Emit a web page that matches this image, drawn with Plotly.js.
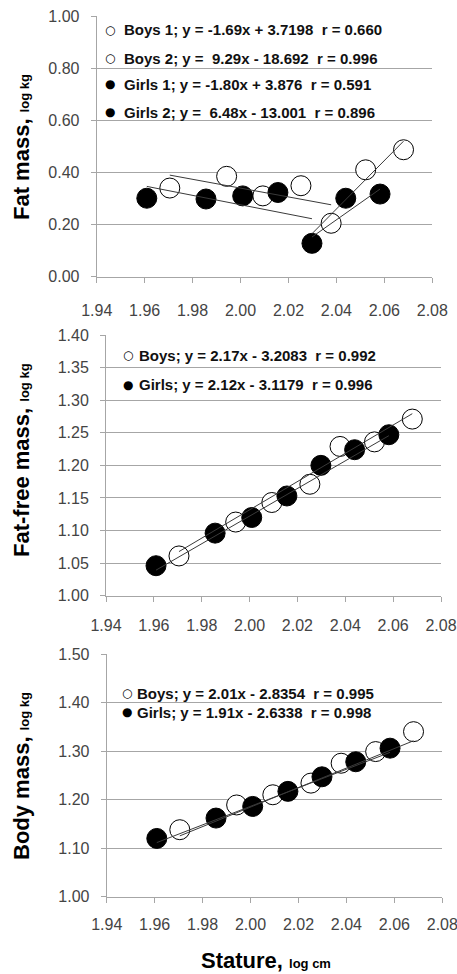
<!DOCTYPE html>
<html>
<head>
<meta charset="utf-8">
<script src="https://cdn.plot.ly/plotly-3.0.1.min.js"></script>
<style>html,body{margin:0;padding:0;background:#fff;}#chart{width:457px;height:974px;}</style>
</head>
<body>
<div id="chart"></div>
<script>
// ---- data (log10 stature, cm) ----
const boysStature  = [1.9705, 1.9942, 2.0093, 2.0252, 2.0378, 2.0522, 2.0680];
const girlsStature = [1.9609, 1.9856, 2.0009, 2.0156, 2.0298, 2.0439, 2.0582];

// Fat mass, log kg
const boysFat  = [0.340, 0.385, 0.310, 0.349, 0.205, 0.410, 0.487];
const girlsFat = [0.301, 0.298, 0.310, 0.323, 0.128, 0.301, 0.317];
// Fat-free mass, log kg
const boysFFM  = [1.061, 1.113, 1.143, 1.171, 1.229, 1.236, 1.271];
const girlsFFM = [1.046, 1.096, 1.120, 1.153, 1.200, 1.224, 1.247];
// Body mass, log kg
const boysBM   = [1.138, 1.189, 1.210, 1.234, 1.275, 1.299, 1.340];
const girlsBM  = [1.120, 1.162, 1.186, 1.217, 1.247, 1.278, 1.306];

// regression lines: [slope, intercept, xStart, xEnd]
const fatBoys1Fit  = [-1.69, 3.7198, 1.9705, 2.0378];
const fatBoys2Fit  = [9.29, -18.692, 2.0298, 2.0680];
const fatGirls1Fit = [-1.80, 3.876, 1.9609, 2.0298];
const fatGirls2Fit = [6.48, -13.001, 2.0298, 2.0582];
const ffmBoysFit   = [2.17, -3.2083, 1.9705, 2.0680];
const ffmGirlsFit  = [2.12, -3.1179, 1.9609, 2.0582];
const bmBoysFit    = [2.01, -2.8354, 1.9705, 2.0680];
const bmGirlsFit   = [1.91, -2.6338, 1.9609, 2.0582];

// legend texts
const fatLabels = [
  "Boys 1; y = -1.69x + 3.7198\u00a0\u00a0r = 0.660",
  "Boys 2; y =\u00a0\u00a09.29x - 18.692\u00a0\u00a0r = 0.996",
  "Girls 1; y = -1.80x + 3.876\u00a0\u00a0r = 0.591",
  "Girls 2; y =\u00a0\u00a06.48x - 13.001\u00a0\u00a0r = 0.896"];
const ffmLabels = [
  "Boys; y = 2.17x - 3.2083\u00a0\u00a0r = 0.992",
  "Girls; y = 2.12x - 3.1179\u00a0\u00a0r = 0.996"];
const bmLabels = [
  "Boys; y = 2.01x - 2.8354\u00a0\u00a0r = 0.995",
  "Girls; y = 1.91x - 2.6338\u00a0\u00a0r = 0.998"];

// ticks
const xTicks   = [1.94, 1.96, 1.98, 2.00, 2.02, 2.04, 2.06, 2.08];
const fatTicks = [0.00, 0.20, 0.40, 0.60, 0.80, 1.00];
const ffmTicks = [1.00, 1.05, 1.10, 1.15, 1.20, 1.25, 1.30, 1.35, 1.40];
const bmTicks  = [1.00, 1.10, 1.20, 1.30, 1.40, 1.50];

// ---- drawing ----
const W = 457, H = 974;
const px = v => v / W, py = v => 1 - v / H;
const LINE = '#3a3a3a', GRID = '#a6a6a6', TICKC = '#444444';

function pts(x, y, filled, xa, ya) {
  return {x: x, y: y, xaxis: xa, yaxis: ya, type: 'scatter', mode: 'markers', hoverinfo: 'skip',
    marker: {size: 20, color: filled ? '#000' : '#fff', line: {color: '#000', width: 1}}};
}
function fit(f, xa, ya) {
  const xs = [f[2], f[3]];
  return {x: xs, y: xs.map(v => f[0] * v + f[1]), xaxis: xa, yaxis: ya, type: 'scatter', mode: 'lines',
    hoverinfo: 'skip', line: {color: LINE, width: 1}};
}
const traces = [
  pts(boysStature, boysFat, false, 'x', 'y'), pts(girlsStature, girlsFat, true, 'x', 'y'),
  fit(fatBoys1Fit, 'x', 'y'), fit(fatBoys2Fit, 'x', 'y'), fit(fatGirls1Fit, 'x', 'y'), fit(fatGirls2Fit, 'x', 'y'),
  pts(boysStature, boysFFM, false, 'x2', 'y2'), pts(girlsStature, girlsFFM, true, 'x2', 'y2'),
  fit(ffmBoysFit, 'x2', 'y2'), fit(ffmGirlsFit, 'x2', 'y2'),
  pts(boysStature, boysBM, false, 'x3', 'y3'), pts(girlsStature, girlsBM, true, 'x3', 'y3'),
  fit(bmBoysFit, 'x3', 'y3'), fit(bmGirlsFit, 'x3', 'y3')
];

function xax(l, r, anchor, standoff) {
  return {domain: [px(l), px(r)], range: [1.94, 2.08], anchor: anchor, tickvals: xTicks,
    ticktext: xTicks.map(v => v.toFixed(2)), showgrid: false, zeroline: false, showline: true,
    linecolor: GRID, linewidth: 1, ticks: 'outside', ticklen: 5, tickcolor: GRID, tickwidth: 1,
    ticklabelstandoff: standoff, ticklabeloverflow: 'allow', tickfont: {size: 16, color: TICKC}, fixedrange: true};
}
function yax(top, bottom, ticks, anchor) {
  return {domain: [py(bottom), py(top)], range: [ticks[0], ticks[ticks.length - 1]], anchor: anchor,
    tickvals: ticks, ticktext: ticks.map(v => v.toFixed(2)), showgrid: true, gridcolor: GRID, gridwidth: 1,
    zeroline: false, showline: true, linecolor: GRID, linewidth: 1, ticks: 'outside', ticklen: 5,
    tickcolor: GRID, ticklabelstandoff: 8, ticklabeloverflow: 'allow', tickfont: {size: 16, color: TICKC}, fixedrange: true};
}

const ann = [];
function legendRow(sym, txt, cx, tx, cy) {
  ann.push({xref: 'paper', yref: 'paper', x: px(cx), y: py(cy), text: sym, showarrow: false,
    xanchor: 'center', yanchor: 'middle', font: {family: 'DejaVu Sans', size: 12, color: '#000'}});
  ann.push({xref: 'paper', yref: 'paper', x: px(tx), y: py(cy), text: '<b>' + txt + '</b>', showarrow: false,
    xanchor: 'left', yanchor: 'middle', font: {size: 15, color: '#111'}});
}
legendRow('\u25CB', fatLabels[0], 110, 122, 30);
legendRow('\u25CB', fatLabels[1], 110, 122, 58);
legendRow('\u25CF', fatLabels[2], 110, 122, 84);
legendRow('\u25CF', fatLabels[3], 110, 122, 112);
legendRow('\u25CB', ffmLabels[0], 128, 137, 355);
legendRow('\u25CF', ffmLabels[1], 128, 137, 385);
legendRow('\u25CB', bmLabels[0], 127, 135, 693);
legendRow('\u25CF', bmLabels[1], 127, 135, 712);

function ytitle(main, cy) {
  ann.push({xref: 'paper', yref: 'paper', x: px(21), y: py(cy), textangle: -90, showarrow: false,
    xanchor: 'center', yanchor: 'middle',
    text: '<b>' + main + ', <span style="font-size:13px">log kg</span></b>',
    font: {size: 22, color: '#000'}});
}
ytitle('Fat mass', 147);
ytitle('Fat-free mass', 460);
ytitle('Body mass', 776);
ann.push({xref: 'paper', yref: 'paper', x: px(266), y: py(960), showarrow: false,
  xanchor: 'center', yanchor: 'middle',
  text: '<b>Stature, <span style="font-size:13px">log cm</span></b>', font: {size: 22, color: '#000'}});

const layout = {
  width: W, height: H, margin: {l: 0, r: 0, t: 0, b: 0}, paper_bgcolor: '#fff', plot_bgcolor: '#fff',
  showlegend: false, font: {family: 'Liberation Sans, Arial, sans-serif'},
  xaxis: xax(96.7, 432.3, 'y', 14), yaxis: yax(16, 276.7, fatTicks, 'x'),
  xaxis2: xax(106, 441, 'y2', 10), yaxis2: yax(335, 595.7, ffmTicks, 'x2'),
  xaxis3: xax(106.7, 442.3, 'y3', 8), yaxis3: yax(654, 896.7, bmTicks, 'x3'),
  annotations: ann
};
Plotly.newPlot('chart', traces, layout, {staticPlot: true, displayModeBar: false});
</script>
</body>
</html>
